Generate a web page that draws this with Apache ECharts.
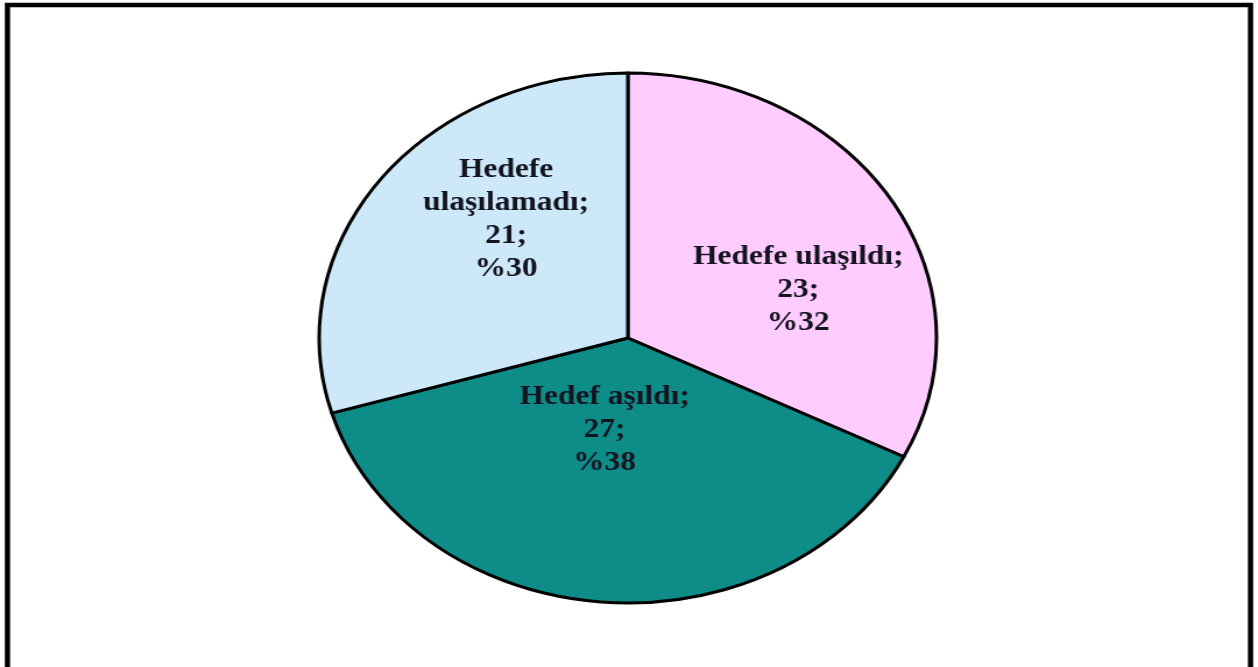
<!DOCTYPE html>
<html>
<head>
<meta charset="utf-8">
<script src="https://cdn.jsdelivr.net/npm/echarts@6/dist/echarts.min.js"></script>
<style>
  html, body { margin: 0; padding: 0; background: #fff; overflow: hidden; }
  #wrap { width: 1258px; height: 667px; overflow: hidden; }
  #chart { width: 1080px; height: 667px; transform: scaleX(1.1648); transform-origin: 0 0; }
</style>
</head>
<body>
<div id="wrap"><div id="chart"></div></div>
<script>
// Data
const categories = ['Hedefe ulaşıldı', 'Hedef aşıldı', 'Hedefe ulaşılamadı'];
const values = [23, 27, 21];
const sliceColors = ['#FFCCFF', '#0E8C88', '#CCE8F9'];
// label nudges (layout only)
const labelNudge = [[31, 23], [-8, -43], [4, -37]];

const chart = echarts.init(document.getElementById('chart'), null, { renderer: 'canvas' });

const option = {
  backgroundColor: '#ffffff',
  animation: false,
  graphic: [{
    type: 'rect',
    shape: { x: 6.4, y: 5, width: 1067.2, height: 670 },
    style: { fill: 'none', stroke: '#000', lineWidth: 4.5 },
    silent: true
  }],
  series: [{
    type: 'pie',
    center: [539, 338],
    radius: [0, 265],
    startAngle: 90,
    clockwise: true,
    percentPrecision: 0,
    silent: true,
    itemStyle: { borderColor: '#000', borderWidth: 3 },
    label: {
      show: true,
      position: 'inside',
      rotate: 0,
      fontFamily: '"Liberation Serif", "Times New Roman", serif',
      fontWeight: 'bold',
      fontSize: 27,
      lineHeight: 33,
      color: '#14141e',
      align: 'center',
      formatter: function (p) {
        const nm = p.name.length > 16 ? p.name.replace(' ', '\n') : p.name;
        return nm + ';\n' + p.value + ';\n%' + p.percent;
      }
    },
    labelLine: { show: false },
    labelLayout: function (params) {
      const n = labelNudge[params.dataIndex] || [0, 0];
      return { dx: n[0], dy: n[1] };
    },
    data: categories.map(function (c, i) {
      return { name: c, value: values[i], itemStyle: { color: sliceColors[i] } };
    })
  }]
};
chart.setOption(option);
</script>
</body>
</html>
